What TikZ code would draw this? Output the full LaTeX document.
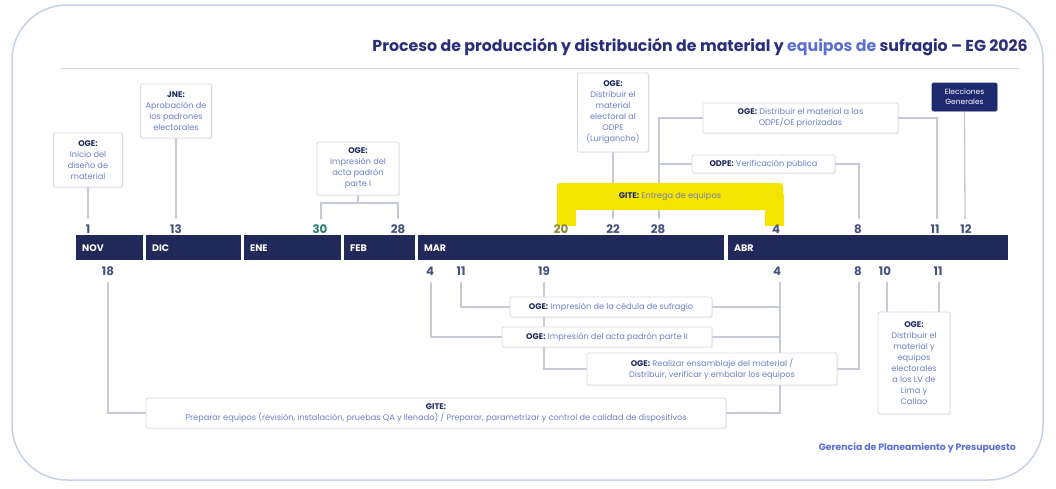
\documentclass[tikz,border=0pt]{standalone}
\usepackage{fontspec}
\setmainfont{Poppins}
\usetikzlibrary{calc,shadows}
\pgfdeclarelayer{bg}
\pgfsetlayers{bg,main}
\definecolor{navy}{HTML}{20295A}
\definecolor{egnavy}{HTML}{1E2A6E}
\definecolor{labc}{HTML}{1F2A5C}
\definecolor{txtc}{HTML}{6F7FC6}
\definecolor{boxc}{HTML}{D6DBE6}
\definecolor{linec}{HTML}{C5CAD5}
\definecolor{numc}{HTML}{45527C}
\definecolor{outc}{HTML}{C8D2E6}
\definecolor{titc}{HTML}{2A2F7A}
\definecolor{titc2}{HTML}{5B6FD0}
\definecolor{hl}{HTML}{F3E500}
\definecolor{tealc}{HTML}{2E7D6B}
\definecolor{olivec}{HTML}{8C8530}
\newcommand{\lab}[1]{{\bfseries\color{labc}#1}}
\tikzset{
  box/.style={draw=boxc, fill=white, line width=0.8pt, rounded corners=1.5pt, align=center,
    font=\fontsize{8.2}{11}\selectfont, text=txtc, inner sep=2pt, anchor=center,
    drop shadow={opacity=0.12, shadow xshift=1.2pt, shadow yshift=-1.2pt}},
  conn/.style={draw=linec, line width=1.3pt},
  num/.style={font=\fontsize{11.8}{12}\selectfont\bfseries, text=numc, inner sep=0pt},
  month/.style={font=\fontsize{9.5}{10}\selectfont\bfseries, text=white, anchor=west, inner sep=0pt},
  seg/.style={fill=navy, draw=none},
  tick/.style={fill=linec, draw=none, circle, inner sep=0pt, minimum size=2.5pt},
}
\begin{document}
\begin{tikzpicture}[x=1pt,y=-1pt]
\useasboundingbox (0,0) rectangle (1056,488);
\begin{pgfonlayer}{bg}
\fill[white] (0,0) rectangle (1056,488);
\draw[outc, line width=1.5pt, rounded corners=55pt] (12,5) rectangle (1043,480);
\end{pgfonlayer}
% title
\node[anchor=east, inner sep=0pt, font=\fontsize{15.8}{17}\selectfont\bfseries] (title) at (1028,47)
  {\color{titc}Proceso de producción y distribución de material y \color{titc2}equipos de \color{titc}sufragio – EG 2026};
\draw[boxc, line width=1pt] (60,68) -- (1020,68);

% timeline bar
\fill[seg] (76,235) rectangle (143,260);
\fill[seg] (146,235) rectangle (241,260);
\fill[seg] (244,235) rectangle (341,260);
\fill[seg] (344,235) rectangle (415,260);
\fill[seg] (418,235) rectangle (724,260);
\fill[seg] (728,235) rectangle (1008,260);
\node[month] (mnov) at (82,248) {NOV};
\node[month] (mdic) at (152,248) {DIC};
\node[month] (mene) at (250,248) {ENE};
\node[month] (mfeb) at (350,248) {FEB};
\node[month] (mmar) at (424,248) {MAR};
\node[month] (mabr) at (734,248) {ABR};

% top tick coordinates
\coordinate (t1) at (88,218);
\coordinate (t13) at (176,218);
\coordinate (t30) at (321,218);
\coordinate (t28a) at (398,218);
\coordinate (t20) at (563,218);
\coordinate (t22) at (613,218);
\coordinate (t28b) at (659,218);
\coordinate (t4) at (777,218);
\coordinate (t8) at (859,218);
\coordinate (t11) at (937,218);
\coordinate (t12) at (965,218);
% bottom tick coordinates
\coordinate (b18) at (108,283);
\coordinate (b4m) at (431,283);
\coordinate (b11m) at (461,283);
\coordinate (b19) at (544,283);
\coordinate (b4a) at (780,283);
\coordinate (b8a) at (859,283);
\coordinate (b10a) at (887,283);
\coordinate (b11a) at (939,283);

% numbers top
\node[num] (n1) at (88,229) {1};
\node[num] (n13) at (176,229) {13};
\node[num, text=tealc] (n30) at (320,229) {30};
\node[num] (n28a) at (398,229) {28};
\node[num, text=olivec] (n20) at (561,229) {20};
\node[num] (n22) at (613,229) {22};
\node[num] (n28b) at (658,229) {28};
\node[num] (n4) at (776,229) {4};
\node[num] (n8) at (858,229) {8};
\node[num] (n11) at (935,229) {11};
\node[num] (n12) at (966,229) {12};
% numbers bottom
\node[num] (m18) at (108,271) {18};
\node[num] (m4) at (430,271) {4};
\node[num] (m11) at (461,271) {11};
\node[num] (m19) at (544,271) {19};
\node[num] (m4b) at (777,271) {4};
\node[num] (m8) at (858,271) {8};
\node[num] (m10) at (885,271) {10};
\node[num] (m11b) at (938,271) {11};

% boxes
\node[box, minimum width=69pt, minimum height=54pt] (b1) at (88,160) {\lab{OGE:}\\Inicio del\\diseño de\\material};
\node[box, minimum width=71pt, minimum height=54pt] (b2) at (176,111) {\lab{JNE:}\\Aprobación de\\los padrones\\electorales};
\node[box, minimum width=82pt, minimum height=53pt] (b3) at (358,168.5) {\lab{OGE:}\\Impresión del\\acta padrón\\parte I};
\node[box, minimum width=71pt, minimum height=79pt] (b4) at (613,112.5) {\lab{OGE:}\\Distribuir el\\material\\electoral al\\ODPE\\(Lurigancho)};
\node[box, minimum width=195pt, minimum height=30pt] (b5) at (800.5,118) {\lab{OGE:} Distribuir el material a las\\ODPE/OE priorizadas};
\node[box, minimum width=143pt, minimum height=18pt] (b6) at (763.5,164) {\lab{ODPE:} Verificación pública};
\node[box, fill=egnavy, draw=egnavy, text=white, minimum width=65pt, minimum height=28pt, font=\fontsize{7.5}{10}\selectfont] (b8) at (964.5,97) {Elecciones\\Generales};
\node[box, minimum width=202pt, minimum height=20pt] (b9) at (611,307) {\lab{OGE:} Impresión de la cédula de sufragio};
\node[box, minimum width=210pt, minimum height=20pt] (b10) at (607,337) {\lab{OGE:} Impresión del acta padrón parte II};
\node[box, minimum width=250pt, minimum height=32pt] (b11) at (712,369) {\lab{OGE:} Realizar ensamblaje del material /\\Distribuir, verificar y embalar los equipos};
\node[box, minimum width=72pt, minimum height=102pt] (b12) at (914,363) {\lab{OGE:}\\Distribuir el\\material y\\equipos\\electorales\\a los LV de\\Lima y\\Callao};
\node[box, minimum width=580pt, minimum height=30pt] (b13) at (436,413) {\lab{GITE:}\\Preparar equipos (revisión, instalación, pruebas QA y llenado) / Preparar, parametrizar y control de calidad de dispositivos};
\coordinate (g) at (670,196);
\node[font=\fontsize{8.2}{10}\selectfont, text=txtc!75!olivec, inner sep=2pt] (b7) at (g) {\lab{GITE:} Entrega de equipos};

% connectors (behind the boxes)
\begin{pgfonlayer}{bg}
\draw[conn] (b1.south) -- (t1);
\draw[conn] (b2.south) -- (t13);
\coordinate (m3) at (358,203);
\draw[conn] (b3.south) -- (m3);
\draw[conn] (t30) -- (t30 |- m3) -- (t28a |- m3) -- (t28a);
\draw[conn] (b4.south) -- (t22);
\draw[conn] (b5.west) -| (t28b);
\draw[conn] (b5.east) -| (t11);
\draw[conn] (b6.west) -| (t28b);
\draw[conn] (b6.east) -| (t8);
\draw[conn] (b8.south) -- (t12);
\draw[conn] (b11m) |- (b9.west);
\draw[conn] (b9.east) -| (b4a);
\draw[conn] (b4m) |- (b10.west);
\draw[conn] (b10.east) -| (b4a);
\draw[conn] (b19) |- (b11.west);
\draw[conn] (b11.east) -| (b8a);
\draw[conn] (b18) |- (b13.west);
\draw[conn] (b13.east) -| (b4a);
\draw[conn] (b10a) -- (b10a |- b12.north);
\draw[conn] (b11a) -- (b11a |- b12.north);
\draw[conn] (t20) |- (b7.west);
\draw[conn] (b7.east) -| (t4);
% yellow highlighter over the GITE bracket
\draw[hl, line width=19pt, line join=round] (566,226) -- (566,196) -- (774,196) -- (774,226);
\fill[hl, rounded corners=3pt] (557,183) rectangle (783,210);
\end{pgfonlayer}

% ticks
\foreach \c in {t1,t13,t30,t28a,t22,t28b,t8,t11,t12,b18,b4m,b11m,b19,b4a,b8a,b10a,b11a}{
  \node[tick] at (\c) {};
}

% footer
\node[anchor=east, inner sep=0pt, font=\fontsize{9.3}{10}\selectfont\bfseries, text=titc2] (foot) at (1016,448) {Gerencia de Planeamiento y Presupuesto};
\end{tikzpicture}
\end{document}
